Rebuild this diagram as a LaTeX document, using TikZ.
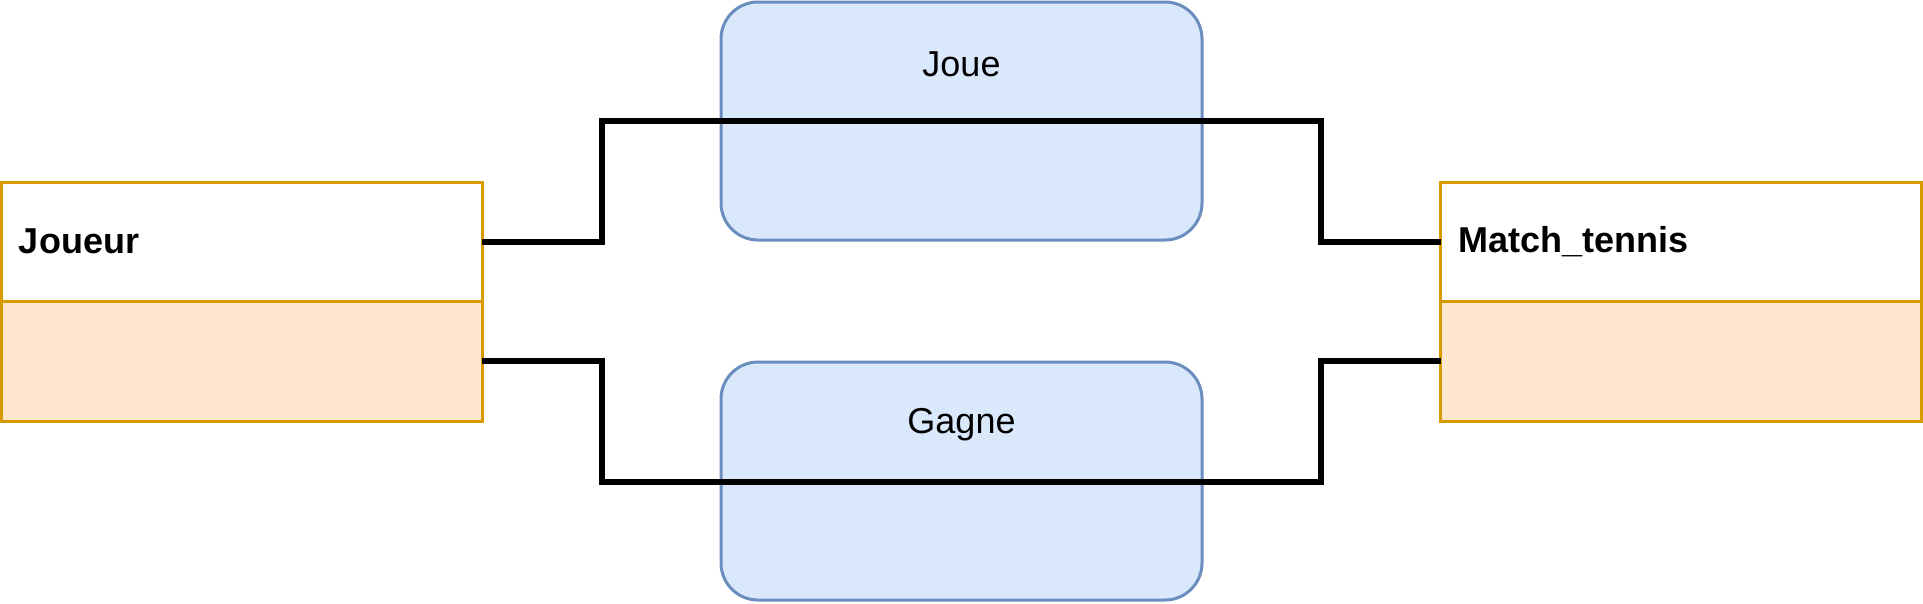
\documentclass[tikz,border=0pt]{standalone}
\usepackage{fontspec}
\setmainfont{Liberation Sans}
\usepackage{tikz}
\usetikzlibrary{positioning}
\usepackage{xcolor}
\definecolor{orangebord}{HTML}{D79B00}
\definecolor{orangefond}{HTML}{FFE6CC}
\definecolor{bleubord}{HTML}{6C8EBF}
\definecolor{bleufond}{HTML}{DAE8FC}

\begin{document}
\begin{tikzpicture}[
    x=1pt, y=-1pt,
    enthead/.style={
        draw=orangebord, fill=white, line width=3pt, outer sep=0pt,
        minimum width=481pt, minimum height=119pt,
        text width=445pt, inner xsep=18pt, align=left,
        font=\fontsize{36}{43}\selectfont\bfseries
    },
    entbody/.style={
        draw=orangebord, fill=orangefond, line width=3pt, outer sep=0pt,
        minimum width=481pt, minimum height=120pt
    },
    assoc/.style={
        draw=bleubord, fill=bleufond, line width=3pt, rounded corners=37pt,
        minimum width=481pt, minimum height=238pt
    },
    assoclabel/.style={font=\fontsize{36}{43}\selectfont},
    link/.style={draw=black, line width=6pt}
]
\useasboundingbox (0,0) rectangle (1923,603);

% --- Entite Joueur (a gauche) ---
\node[enthead] (joueur) at (241.5,241.5) {Joueur};
\node[entbody, below=0pt of joueur] (joueur-body) {};

% --- Entite Match_tennis (a droite) ---
\node[enthead] (match) at (1681,241.5) {Match\_tennis};
\node[entbody, below=0pt of match] (match-body) {};

% ============================================================
%  ASSOCIATIONS  (Joue en haut, Gagne en bas)
% ============================================================
\node[assoc] (joue) at (961.5,121) {};
\node[assoclabel] at ([yshift=-64pt]joue.north) {Joue};

\node[assoc] (gagne) at (961.5,481) {};
\node[assoclabel] at ([yshift=-64pt]gagne.north) {Gagne};

% ============================================================
%  LIENS entre les entites
% ============================================================
\coordinate (joue-l) at (602,121);
\coordinate (joue-r) at (1321,121);
\coordinate (gagne-l) at (602,482);
\coordinate (gagne-r) at (1321,482);

\draw[link] (joueur.east) -| (joue-l) -- (joue-r) |- (match.west);
\draw[link] (joueur-body.east) -| (gagne-l) -- (gagne-r) |- (match-body.west);

\end{tikzpicture}
\end{document}
